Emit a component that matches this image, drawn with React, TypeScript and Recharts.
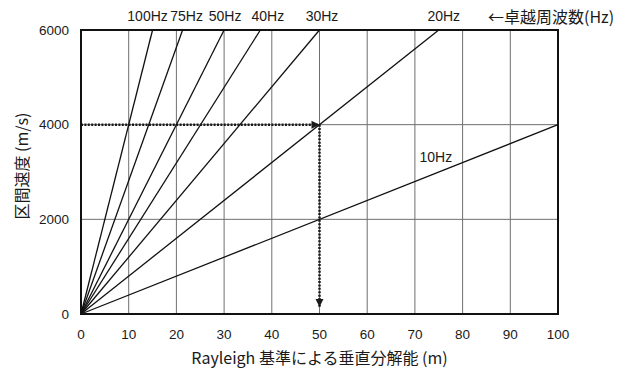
import {
  LineChart,
  Line,
  XAxis,
  YAxis,
  CartesianGrid,
  ReferenceArea,
  ReferenceDot,
} from "recharts";

// dominant frequency lines: v = 4 f d, drawn from the origin to where each leaves the frame
const freqNames = ["100Hz", "75Hz", "50Hz", "40Hz", "30Hz", "20Hz", "10Hz"];
const endResolution = [15, 21.3, 30, 37.6, 50, 75, 100];
const endVelocity = [6000, 6000, 6000, 6000, 6000, 6000, 4000];

const xTicks = [0, 10, 20, 30, 40, 50, 60, 70, 80, 90, 100];
const yTicks = [0, 2000, 4000, 6000];

// worked example: 4000 m/s at 30Hz -> 50 m
const exampleVelocity = [4000, 4000];
const exampleResolution = [0, 50];
const arrowFloor = 150;

// where the 10Hz name sits (below the top edge, unlike the others)
const tenHzLabelAt = { x: 74.4, y: 3320 };

const NUM_FONT = "'Liberation Sans', Arial, sans-serif";
const JP_FONT = "'Noto Sans CJK JP', sans-serif";

// small horizontal shifts so the crowded names along the top don't collide
const labelNudge: Record<string, number> = {
  "100Hz": -5,
  "75Hz": 4,
  "50Hz": 1,
  "40Hz": 7.5,
  "30Hz": 2.5,
  "20Hz": 5,
};

const series = freqNames.map((name, i) => ({
  name,
  data: [
    { x: 0, y: 0 },
    { x: endResolution[i], y: endVelocity[i] },
  ],
}));

const horizontalGuide = exampleResolution.map((x, i) => ({ x, y: exampleVelocity[i] }));
const verticalGuide = [
  { x: exampleResolution[1], y: exampleVelocity[1] },
  { x: exampleResolution[1], y: arrowFloor },
];

const topLabel = (name: string) => (props: any) => {
  if (props.index !== 1 || name === "10Hz") return <g key={`lbl-${name}`} />;
  return (
    <text
      key={`lbl-${name}`}
      x={props.x + (labelNudge[name] ?? 0)}
      y={props.y - 9}
      textAnchor="middle"
      fontFamily={NUM_FONT}
      fontSize={14}
      fill="#1a1a1a"
    >
      {name}
    </text>
  );
};

const arrowHead = (dir: "right" | "down") => (props: any) => {
  const { cx, cy, index } = props;
  if (index !== 1) return <g key={`a-${dir}-${index}`} />;
  const d =
    dir === "right"
      ? `M${cx},${cy} L${cx - 8},${cy - 4} L${cx - 8},${cy + 4} Z`
      : `M${cx},${cy} L${cx - 4},${cy - 8} L${cx + 4},${cy - 8} Z`;
  return <path key={`a-${dir}-${index}`} d={d} fill="#1a1a1a" />;
};

export default function App() {
  return (
    <div style={{ position: "absolute", left: 0, top: 0, width: 632, height: 370, background: "#fff" }}>
      <LineChart width={632} height={370} margin={{ top: 30, right: 74, bottom: 0, left: 0 }}>
        <CartesianGrid stroke="#6f6f6f" strokeWidth={1} />
        <XAxis
          type="number"
          dataKey="x"
          domain={[0, 100]}
          ticks={xTicks}
          height={56}
          tickLine={false}
          tickMargin={9}
          axisLine={{ stroke: "#111", strokeWidth: 2 }}
          tick={{ fontSize: 13.5, fill: "#1a1a1a", fontFamily: NUM_FONT }}
          label={{
            value: "Rayleigh 基準による垂直分解能 (m)",
            position: "insideBottom",
            offset: 6,
            fontSize: 16,
            fill: "#1a1a1a",
            fontFamily: JP_FONT,
          }}
        />
        <YAxis
          type="number"
          dataKey="y"
          domain={[0, 6000]}
          ticks={yTicks}
          width={81}
          tickLine={false}
          tickMargin={6}
          axisLine={{ stroke: "#111", strokeWidth: 2 }}
          tick={{ fontSize: 13.5, fill: "#1a1a1a", fontFamily: NUM_FONT }}
          label={{
            content: ({ viewBox }: any) => (
              <text
                transform={`translate(${viewBox.x + 21},${viewBox.y + viewBox.height / 2 - 6}) rotate(-90)`}
                textAnchor="middle"
                dominantBaseline="central"
                fontSize={16}
                fill="#1a1a1a"
                fontFamily={JP_FONT}
              >
                区間速度 (m/s)
              </text>
            ),
          }}
        />
        {series.map((s) => (
          <Line
            key={s.name}
            data={s.data}
            dataKey="y"
            name={s.name}
            type="linear"
            stroke="#111"
            strokeWidth={1.3}
            dot={false}
            activeDot={false}
            label={topLabel(s.name)}
            isAnimationActive={false}
          />
        ))}
        <Line
          data={horizontalGuide}
          dataKey="y"
          type="linear"
          stroke="#1a1a1a"
          strokeWidth={2.5}
          strokeDasharray="2 1.4"
          dot={arrowHead("right")}
          activeDot={false}
          isAnimationActive={false}
        />
        <Line
          data={verticalGuide}
          dataKey="y"
          type="linear"
          stroke="#1a1a1a"
          strokeWidth={2.5}
          strokeDasharray="2 1.4"
          dot={arrowHead("down")}
          activeDot={false}
          isAnimationActive={false}
        />
        <ReferenceDot
          x={tenHzLabelAt.x}
          y={tenHzLabelAt.y}
          r={0}
          fill="none"
          stroke="none"
          label={{ value: "10Hz", position: "center", fontSize: 14, fill: "#1a1a1a", fontFamily: NUM_FONT }}
        />
        <ReferenceArea x1={0} x2={100} y1={0} y2={6000} fill="none" fillOpacity={0} stroke="#111" strokeWidth={2} />
      </LineChart>
      <div
        style={{
          position: "absolute",
          left: 488,
          top: 6,
          fontFamily: JP_FONT,
          fontSize: 16,
          color: "#1a1a1a",
          whiteSpace: "nowrap",
          lineHeight: "20px",
        }}
      >
        ←卓越周波数(Hz)
      </div>
    </div>
  );
}
